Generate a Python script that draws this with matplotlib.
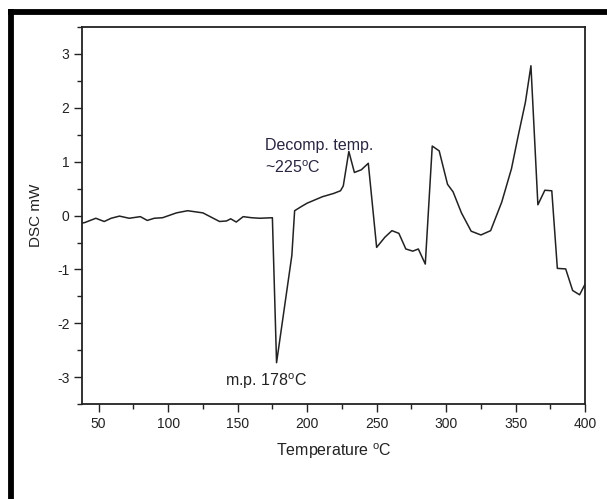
import numpy as np
import matplotlib
matplotlib.use("Agg")
import matplotlib.pyplot as plt
from matplotlib.lines import Line2D
from matplotlib.ticker import MultipleLocator

plt.rcParams["font.family"] = ["Liberation Sans", "DejaVu Sans"]
plt.rcParams["mathtext.fontset"] = "custom"
plt.rcParams["mathtext.rm"] = "Liberation Sans"
plt.rcParams["axes.unicode_minus"] = False

# DSC trace
temperature = [38, 40, 48, 54, 59, 65, 72, 80, 85, 90, 96, 106, 114, 125, 131,
               137, 142, 145, 149, 154, 160, 166, 175, 178, 189, 191, 196, 200,
               211, 219, 224, 226, 230, 234, 239, 244, 250, 256, 261, 266, 271,
               276, 280, 285, 290, 295, 301, 305, 311, 318, 325, 332, 340, 347,
               352, 357, 361, 366, 371, 376, 380, 386, 391, 396, 400]
dsc = [-0.14, -0.13, -0.05, -0.11, -0.05, -0.01, -0.05, -0.02, -0.09, -0.05,
       -0.04, 0.05, 0.09, 0.05, -0.03, -0.11, -0.10, -0.06, -0.12, -0.02,
       -0.04, -0.05, -0.04, -2.73, -0.74, 0.09, 0.17, 0.23, 0.35, 0.41, 0.46,
       0.55, 1.19, 0.80, 0.85, 0.97, -0.59, -0.40, -0.28, -0.33, -0.62, -0.66,
       -0.62, -0.90, 1.29, 1.20, 0.58, 0.44, 0.05, -0.29, -0.36, -0.28, 0.25,
       0.87, 1.50, 2.10, 2.78, 0.20, 0.47, 0.46, -0.98, -0.99, -1.39, -1.47,
       -1.27]

x_ticks = [50, 100, 150, 200, 250, 300, 350, 400]
y_ticks = [-3, -2, -1, 0, 1, 2, 3]

fig = plt.figure(figsize=(6.07, 4.99), dpi=100)
ax = fig.add_axes([0.135, 0.190, 0.829, 0.756])

ax.plot(temperature, dsc, color="#222222", linewidth=1.1)

ax.set_xlim(38, 400)
ax.set_ylim(-3.5, 3.5)
ax.set_xticks(x_ticks)
ax.set_yticks(y_ticks)
ax.xaxis.set_minor_locator(MultipleLocator(25))
ax.yaxis.set_minor_locator(MultipleLocator(0.5))
ax.tick_params(which="major", direction="out", length=6, width=1,
               labelsize=10, colors="#222222", pad=3)
ax.tick_params(which="minor", direction="out", length=3.5, width=1,
               colors="#222222")
for s in ax.spines.values():
    s.set_linewidth(1.3)
    s.set_color("#222222")

ax.set_xlabel("Temperature $^{\\rm o}$C", fontsize=11.5, color="#222222", labelpad=8)
ax.set_ylabel("DSC mW", fontsize=11, color="#222222", labelpad=10)

ax.text(170, 1.22, "Decomp. temp.", fontsize=11.5, color="#2a2540")
ax.text(170, 0.79, "~225$^{\\rm o}$C", fontsize=11.5, color="#2a2540")
ax.text(141, -3.16, "m.p. 178$^{\\rm o}$C", fontsize=11.5, color="#222222")

# thick black frame on top and left of the figure
fig.add_artist(Line2D([8 / 607, 1], [1 - 11.5 / 499, 1 - 11.5 / 499],
                      color="black", linewidth=4.2, solid_capstyle="butt"))
fig.add_artist(Line2D([11 / 607, 11 / 607], [0, 1 - 9 / 499],
                      color="black", linewidth=4.2, solid_capstyle="butt"))

fig.savefig("out.png", dpi=100)
